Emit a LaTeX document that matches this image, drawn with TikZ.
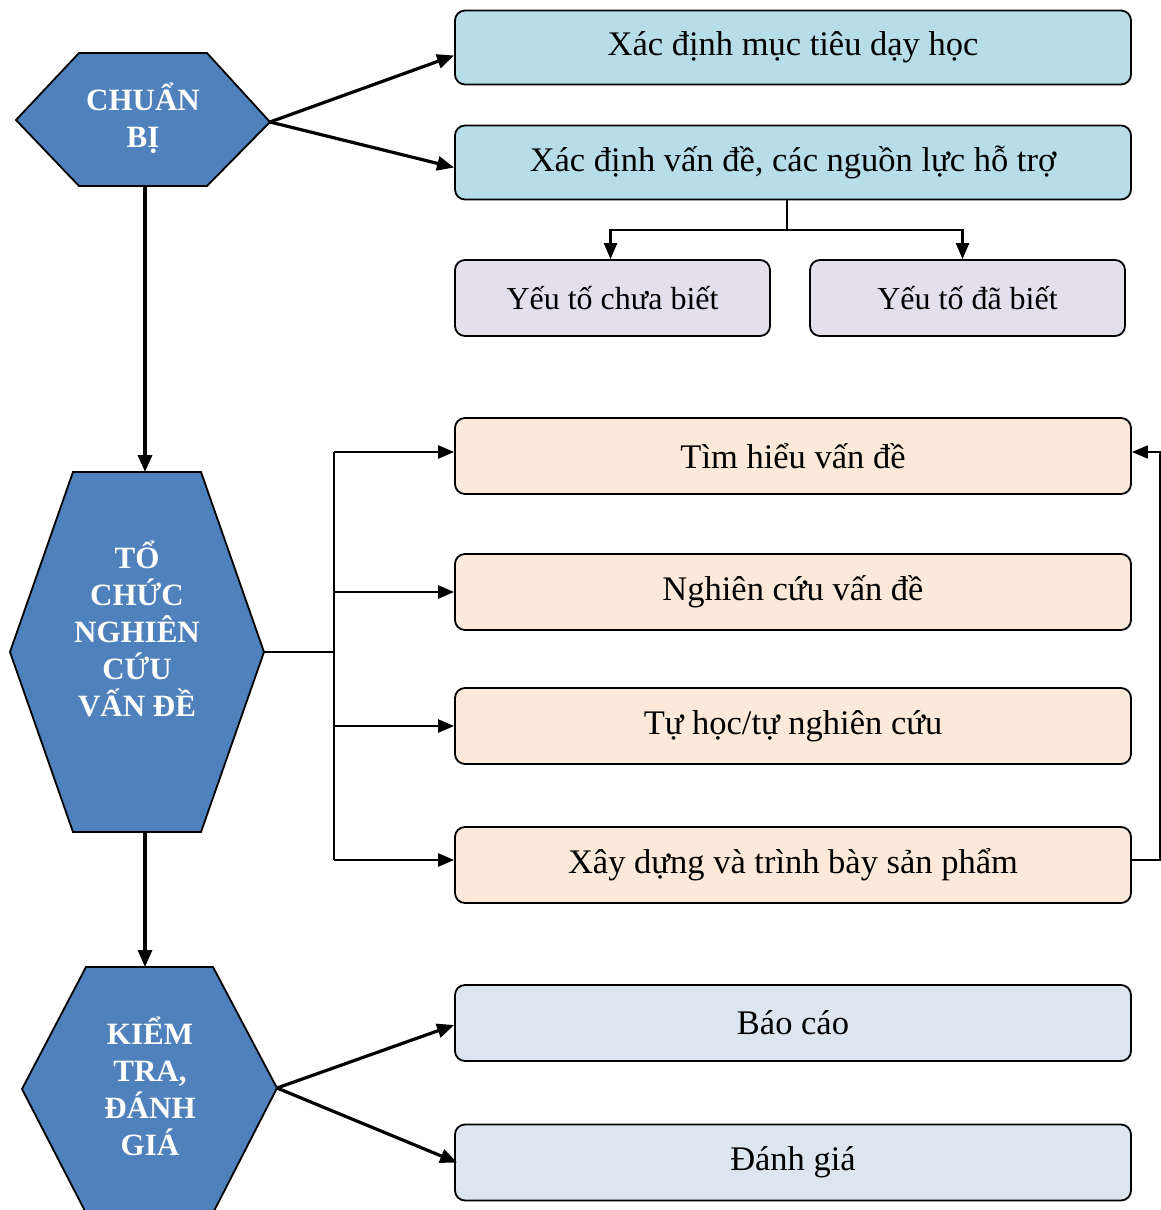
\documentclass[tikz,border=0pt]{standalone}
\usepackage{fontspec}
\setmainfont{Liberation Serif}
\usetikzlibrary{arrows.meta,calc}
\definecolor{hexblue}{HTML}{4F81BD}
\definecolor{lblue}{HTML}{B7DEE8}
\definecolor{lav}{HTML}{E4DFEC}
\definecolor{peach}{HTML}{FDE9D9}
\definecolor{greyblue}{HTML}{DCE6F1}
\tikzset{
  hexshape/.style={fill=hexblue,draw=black,line width=1.8pt,line join=miter},
  hextext/.style={text=white,font=\bfseries\fontsize{31}{37}\selectfont,align=center,inner sep=0pt},
  boxstyle/.style={draw=black,line width=1.8pt,rounded corners=10pt,minimum width=676pt,minimum height=74pt,inner sep=0pt,font=\fontsize{34.5}{40}\selectfont},
  smallbox/.style={boxstyle,minimum width=315pt,minimum height=76pt,font=\fontsize{32}{38}\selectfont},
  arr/.style={line width=3.2pt,-{Triangle[length=17pt,width=14pt]}},
  thinarr/.style={line width=2.4pt,-{Triangle[length=16pt,width=13pt]}},
  thinline/.style={line width=1.8pt}
}
\begin{document}
\begin{tikzpicture}[x=1pt,y=-1pt]
\useasboundingbox (0,0) rectangle (1161,1210);
\clip (0,0) rectangle (1161,1210);
% hexagon vertices
\coordinate (h1tl) at (79,53); \coordinate (h1tr) at (207,53);
\coordinate (h1r) at (270,122); \coordinate (h1br) at (207,186);
\coordinate (h1bl) at (79,186); \coordinate (h1l) at (16,120);
\coordinate (h1t) at (145,53); \coordinate (h1b) at (145,186);
\coordinate (h2tl) at (73,472); \coordinate (h2tr) at (201,472);
\coordinate (h2r) at (264,652); \coordinate (h2br) at (201,832);
\coordinate (h2bl) at (73,832); \coordinate (h2l) at (10,652);
\coordinate (h2t) at (145,472); \coordinate (h2b) at (145,832);
\coordinate (h3tl) at (86,967); \coordinate (h3tr) at (213,967);
\coordinate (h3r) at (277,1088); \coordinate (h3br) at (213,1213);
\coordinate (h3bl) at (86,1213); \coordinate (h3l) at (22,1089);
\coordinate (h3t) at (145,967);
\draw[hexshape] (h1tl) -- (h1tr) -- (h1r) -- (h1br) -- (h1bl) -- (h1l) -- cycle;
\draw[hexshape] (h2tl) -- (h2tr) -- (h2r) -- (h2br) -- (h2bl) -- (h2l) -- cycle;
\draw[hexshape] (h3tl) -- (h3tr) -- (h3r) -- (h3br) -- (h3bl) -- (h3l) -- cycle;
\node[hextext] (t1) at (143,118) {CHUẨN\\BỊ};
\node[hextext] (t2) at (137,629) {TỔ\\CHỨC\\NGHIÊN\\CỨU\\VẤN ĐỀ};
\node[hextext] (t3) at (150,1086) {KIỂM\\TRA,\\ĐÁNH\\GIÁ};
% boxes
\node[boxstyle,fill=lblue] (b1) at (793,47.5) {Xác định mục tiêu dạy học};
\node[boxstyle,fill=lblue] (b2) at (793,162.5) {Xác định vấn đề, các nguồn lực hỗ trợ};
\node[smallbox,fill=lav] (y1) at (612.5,298) {Yếu tố chưa biết};
\node[smallbox,fill=lav] (y2) at (967.5,298) {Yếu tố đã biết};
\node[boxstyle,fill=peach,minimum height=76pt] (o1) at (793,456) {Tìm hiểu vấn đề};
\node[boxstyle,fill=peach,minimum height=76pt] (o2) at (793,592) {Nghiên cứu vấn đề};
\node[boxstyle,fill=peach,minimum height=76pt] (o3) at (793,726) {Tự học/tự nghiên cứu};
\node[boxstyle,fill=peach,minimum height=76pt] (o4) at (793,865) {Xây dựng và trình bày sản phẩm};
\node[boxstyle,fill=greyblue,minimum height=76pt] (g1) at (793,1023) {Báo cáo};
\node[boxstyle,fill=greyblue,minimum height=76pt] (g2) at (793,1162.5) {Đánh giá};
% connectors
\draw[arr] (h1r) -- ($(b1.west)+(0,8)$);
\draw[arr] (h1r) -- ($(b2.west)+(0,5)$);
\draw[arr] (h1b) -- (h2t);
\draw[arr] (h2b) -- (h3t);
\draw[arr] (h3r) -- ($(g1.west)+(0,2)$);
\draw[arr] (h3r) -- ($(g2.west)+(3,0)$);
\coordinate (sp) at (787,230);
\draw[thinline] (b2.south -| sp) -- (sp);
\draw[thinarr] (sp) -| ($(y1.north)+(-2,0)$);
\draw[thinarr] (sp) -| ($(y2.north)+(-5,0)$);
\coordinate (br) at (334,652);
\coordinate (a1) at ($(o1.west)+(0,-4)$);
\coordinate (a4) at ($(o4.west)+(0,-5)$);
\coordinate (e1) at ($(o1.east)+(0,-4)$);
\coordinate (e4) at ($(o4.east)+(0,-5)$);
\draw[thinline] (h2r) -- (br);
\draw[thinline] (br |- a1) -- (br |- a4);
\draw[thinarr] (br |- a1) -- (a1);
\draw[thinarr] (br |- o2.west) -- (o2.west);
\draw[thinarr] (br |- o3.west) -- (o3.west);
\draw[thinarr] (br |- a4) -- (a4);
\coordinate (fb) at (1160,860);
\draw[thinline,-{Triangle[length=16pt,width=13pt]}] (e4) -- (fb) |- (e1);
\end{tikzpicture}
\end{document}
